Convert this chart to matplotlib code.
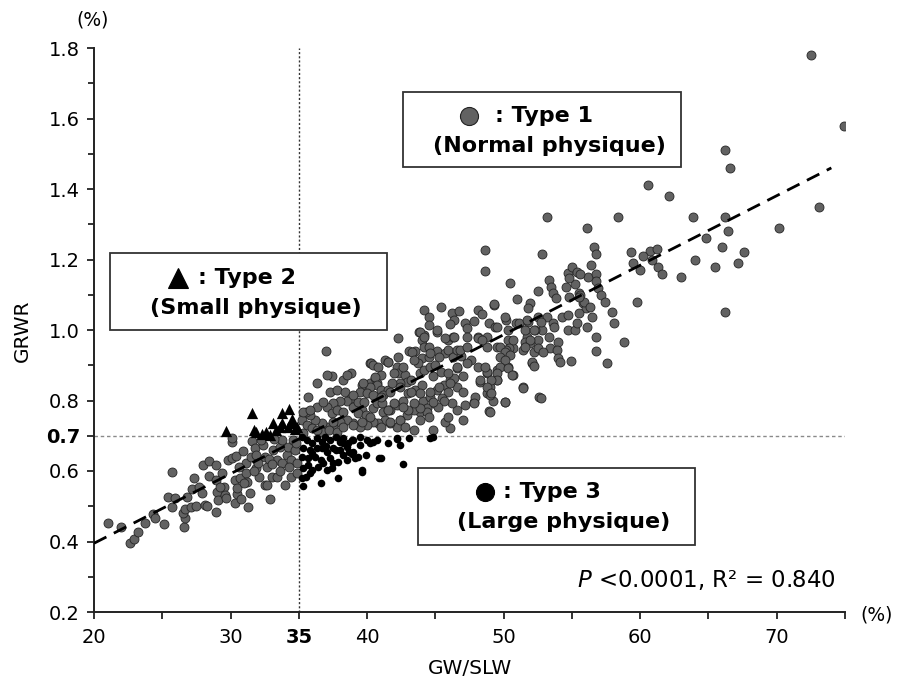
import numpy as np
import matplotlib
matplotlib.use("Agg")
import matplotlib.pyplot as plt
from matplotlib.patches import Rectangle
from matplotlib.lines import Line2D

# ---- data (GW/SLW %, GRWR %) ----
# Type 1 (normal physique), grouped by x band
normal_20_30 = [
    (21.0, 0.452), (22.0, 0.441), (22.6, 0.395), (22.9, 0.407), (23.2, 0.427), (23.7, 0.452),
    (24.3, 0.478), (24.5, 0.467), (25.1, 0.449), (25.4, 0.527), (25.7, 0.597), (25.9, 0.523),
    (25.7, 0.498), (26.6, 0.441), (26.7, 0.467), (26.5, 0.480), (26.8, 0.527), (26.7, 0.492),
    (27.2, 0.549), (27.3, 0.580), (27.1, 0.498), (27.5, 0.500), (27.7, 0.555), (27.9, 0.538),
    (28.0, 0.617), (28.1, 0.504), (28.4, 0.628), (28.4, 0.586), (28.9, 0.484), (28.3, 0.500),
    (28.9, 0.617), (28.9, 0.575), (29.0, 0.541), (29.1, 0.518), (29.4, 0.594), (29.5, 0.555),
    (29.6, 0.532), (29.2, 0.555), (29.7, 0.523), (29.8, 0.631),
]
normal_30_35 = [
    (30.1, 0.682), (30.1, 0.693), (30.1, 0.637), (30.3, 0.575), (30.3, 0.510), (30.4, 0.643),
    (30.5, 0.535), (30.5, 0.552), (30.7, 0.580), (30.8, 0.520), (30.9, 0.657), (31.1, 0.622),
    (31.1, 0.594), (31.2, 0.569), (31.3, 0.498), (31.4, 0.538), (31.5, 0.640), (31.6, 0.685),
    (31.8, 0.665), (31.9, 0.609), (31.9, 0.645), (32.0, 0.622), (32.1, 0.583), (32.4, 0.674),
    (32.5, 0.640), (32.7, 0.612), (32.5, 0.560), (32.7, 0.560), (32.9, 0.520), (33.0, 0.583),
    (33.1, 0.660), (33.4, 0.631), (33.4, 0.583), (33.6, 0.668), (33.8, 0.622), (33.8, 0.687),
    (34.0, 0.560), (34.1, 0.645), (34.2, 0.668), (34.4, 0.631), (34.4, 0.583), (34.6, 0.687),
    (34.7, 0.660), (34.9, 0.622), (34.8, 0.680), (34.9, 0.595), (33.2, 0.690),
    (32.2, 0.688), (31.0, 0.565), (30.6, 0.610), (32.8, 0.635), (33.6, 0.600), (34.3, 0.610),
    (31.7, 0.600), (33.0, 0.620),
]
normal_35_46 = [
    (36.3, 0.850), (37.4, 0.869), (38.2, 0.858), (38.8, 0.878), (37.3, 0.824), (37.8, 0.830),
    (38.4, 0.824), (38.8, 0.807), (38.5, 0.800), (38.0, 0.800), (37.5, 0.793), (37.1, 0.782),
    (37.4, 0.764), (37.8, 0.773), (38.2, 0.767), (39.0, 0.782), (39.3, 0.796), (39.6, 0.773),
    (39.3, 0.764), (39.9, 0.759), (40.4, 0.779), (40.7, 0.793), (41.1, 0.793), (41.2, 0.767),
    (41.7, 0.773), (42.2, 0.787), (42.6, 0.800), (43.0, 0.821), (43.5, 0.830), (44.0, 0.844),
    (44.1, 0.800), (44.6, 0.810), (45.1, 0.830), (45.6, 0.844), (46.1, 0.858), (46.6, 0.892),
    (46.4, 0.864), (45.9, 0.824), (45.5, 0.807), (44.8, 0.793), (44.4, 0.779), (43.9, 0.767),
    (43.4, 0.773), (42.9, 0.759), (42.4, 0.745), (42.2, 0.725), (41.7, 0.736), (41.3, 0.745),
    (40.8, 0.736), (40.4, 0.739), (40.0, 0.730), (39.5, 0.725), (39.0, 0.736), (38.5, 0.745),
    (38.0, 0.739), (37.5, 0.725), (37.1, 0.725), (36.7, 0.736), (36.2, 0.745), (35.8, 0.759),
    (35.5, 0.767), (35.2, 0.745), (35.6, 0.730), (36.0, 0.722), (36.7, 0.710), (37.2, 0.716),
    (37.8, 0.710), (35.7, 0.810), (36.3, 0.782), (36.8, 0.796), (39.6, 0.844), (40.2, 0.850),
    (40.6, 0.864), (35.3, 0.767), (35.8, 0.773), (37.1, 0.872), (38.5, 0.872), (35.3, 0.708),
    (36.3, 0.716), (37.5, 0.739), (38.2, 0.725), (39.0, 0.730), (39.6, 0.739), (40.2, 0.753),
    (41.0, 0.725), (41.5, 0.773), (40.7, 0.850), (40.2, 0.906), (41.3, 0.915),
    (37.0, 0.940), (42.3, 0.977), (43.8, 0.994), (44.2, 0.986), (45.1, 0.994), (45.9, 0.972),
    (46.3, 0.980), (44.0, 0.972), (44.2, 0.952), (43.1, 0.940), (43.5, 0.940), (44.0, 0.920),
    (44.5, 0.923), (45.1, 0.940), (45.7, 0.935), (45.9, 0.943), (46.3, 0.923), (46.6, 0.943),
    (40.3, 0.906), (40.4, 0.900), (41.5, 0.909), (42.2, 0.895), (42.3, 0.878), (42.8, 0.872),
    (42.9, 0.852), (42.4, 0.850), (40.8, 0.895), (41.0, 0.872), (40.6, 0.867), (40.7, 0.844),
    (40.2, 0.838), (39.7, 0.850), (39.5, 0.824), (40.0, 0.821), (40.4, 0.816), (41.0, 0.830),
    (41.5, 0.830), (41.2, 0.816), (39.0, 0.815), (41.8, 0.850), (43.2, 0.858), (44.8, 0.870),
    (45.4, 0.880), (47.0, 0.870), (47.6, 0.915), (46.9, 0.925), (43.7, 0.905), (39.8, 0.795),
]
normal_41_54 = [
    (44.2, 1.057), (44.5, 1.037), (45.4, 1.065), (46.2, 1.048), (46.7, 1.054), (46.4, 1.028),
    (46.1, 1.017), (47.2, 1.020), (47.3, 1.006), (47.8, 1.026), (48.1, 1.057), (48.4, 1.045),
    (49.3, 1.071), (48.9, 1.020), (49.4, 1.009), (44.5, 1.014), (43.9, 0.994), (44.2, 0.980),
    (45.1, 1.000), (45.7, 0.977), (46.4, 0.980), (47.3, 0.980), (48.1, 0.980), (48.8, 0.980),
    (43.3, 0.938), (44.5, 0.952), (44.6, 0.935), (45.3, 0.923), (46.8, 0.943), (47.3, 0.952),
    (48.8, 0.952), (49.5, 0.952), (50.3, 0.972), (50.7, 0.949), (51.4, 0.943), (52.2, 0.938),
    (53.4, 0.949), (52.1, 0.906), (50.7, 0.872), (51.4, 0.838), (52.6, 0.810), (47.0, 0.745),
    (46.1, 0.722), (45.7, 0.739), (44.8, 0.716), (43.4, 0.716), (42.3, 0.923), (41.5, 0.909),
    (42.0, 0.878), (42.6, 0.895), (43.4, 0.915), (43.9, 0.878), (44.2, 0.887), (44.6, 0.895),
    (45.0, 0.900), (45.9, 0.878), (46.6, 0.895), (47.3, 0.906), (48.1, 0.895), (48.8, 0.878),
    (49.5, 0.887), (50.3, 0.895), (48.3, 0.853), (49.0, 0.838), (49.5, 0.858), (48.8, 0.821),
    (49.2, 0.800), (47.8, 0.796), (47.2, 0.787), (46.6, 0.773), (46.2, 0.793), (45.6, 0.800),
    (45.2, 0.782), (44.8, 0.796), (44.4, 0.767), (43.9, 0.779), (43.4, 0.793), (43.0, 0.773),
    (42.6, 0.782), (42.0, 0.793), (41.5, 0.773), (42.4, 0.745), (41.7, 0.739), (42.8, 0.725),
    (43.9, 0.745), (44.5, 0.753), (45.9, 0.753), (46.6, 0.838), (47.0, 0.824), (46.1, 0.850),
    (45.3, 0.838), (44.6, 0.824), (43.9, 0.821), (43.2, 0.824), (42.4, 0.838), (41.7, 0.824),
    (41.0, 0.810),
]
normal_45_57 = [
    (48.6, 1.227), (48.6, 1.167), (52.8, 1.215), (50.5, 1.133), (52.5, 1.110), (51.0, 1.088),
    (49.3, 1.074), (51.9, 1.077), (51.8, 1.062), (53.3, 1.142), (53.5, 1.122), (53.6, 1.105),
    (53.8, 1.090), (54.7, 1.162), (55.0, 1.179), (55.4, 1.165), (55.2, 1.130), (56.2, 1.150),
    (54.8, 1.094), (55.5, 1.105), (55.8, 1.077), (56.0, 1.062), (56.5, 1.037), (54.9, 0.912),
    (52.7, 0.807), (51.4, 0.835), (50.1, 0.796), (48.9, 0.770), (54.7, 1.000), (55.2, 1.000),
    (55.4, 1.020), (54.0, 0.966), (53.9, 0.943), (54.0, 0.920), (54.1, 0.910), (53.2, 1.037),
    (53.6, 1.020), (53.7, 1.009), (53.3, 0.980), (54.3, 1.037), (54.7, 1.043), (52.8, 1.000),
    (52.3, 1.000), (52.5, 0.972), (52.5, 0.949), (52.9, 0.938), (52.1, 0.909), (52.2, 0.898),
    (51.8, 1.023), (51.7, 0.980), (51.6, 0.966), (51.9, 0.963), (50.9, 1.020), (50.7, 0.972),
    (50.4, 0.949), (50.2, 0.943), (50.2, 1.028), (50.1, 1.037), (50.3, 1.000), (48.1, 0.977),
    (48.4, 0.972), (49.5, 1.009), (51.1, 1.020), (51.6, 1.000), (51.7, 1.028), (52.5, 1.037),
    (52.7, 1.023), (52.2, 1.000), (51.9, 0.972), (51.6, 0.952), (49.7, 0.952), (50.1, 0.938),
    (50.5, 0.929), (49.7, 0.923), (50.1, 0.915), (49.7, 0.895), (50.3, 0.892), (50.6, 0.872),
    (49.5, 0.878), (49.5, 0.858), (49.1, 0.858), (48.8, 0.881), (48.6, 0.895), (48.3, 0.858),
    (48.8, 0.838), (49.0, 0.816), (49.1, 0.821), (47.9, 0.810), (47.8, 0.793), (49.0, 0.767),
    (50.1, 0.796),
]
normal_53_60 = [
    (56.1, 1.290), (56.6, 1.235), (56.8, 1.215), (56.4, 1.185), (55.6, 1.160), (56.8, 1.160),
    (56.8, 1.140), (56.9, 1.120), (57.1, 1.100), (57.4, 1.080), (55.6, 1.100), (55.9, 1.080),
    (56.3, 1.065), (57.9, 1.050), (58.1, 1.020), (58.8, 0.965), (56.8, 0.940), (57.6, 0.905),
    (53.2, 1.320), (58.4, 1.320), (56.8, 0.980), (56.1, 1.009), (55.5, 1.048), (54.8, 1.148),
    (54.6, 1.122), (55.5, 1.094),
]
normal_58_75 = [
    (72.5, 1.780), (74.9, 1.580), (66.2, 1.510), (66.6, 1.460), (60.6, 1.410), (62.1, 1.380),
    (63.9, 1.320), (66.2, 1.320), (66.4, 1.280), (64.8, 1.260), (70.2, 1.290), (73.1, 1.350),
    (66.0, 1.235), (67.6, 1.220), (64.0, 1.200), (65.5, 1.180), (67.2, 1.190), (63.0, 1.150),
    (59.3, 1.220), (60.7, 1.225), (61.2, 1.230), (60.2, 1.210), (60.9, 1.200), (59.5, 1.190),
    (61.3, 1.180), (60.0, 1.170), (61.6, 1.160), (59.8, 1.080), (66.2, 1.050),
]

# Type 2 (small physique)
small_physique = [
    (29.7, 0.713), (31.6, 0.764), (31.7, 0.716), (31.9, 0.711), (32.3, 0.705), (32.9, 0.702),
    (33.1, 0.736), (33.8, 0.764), (33.8, 0.736), (34.3, 0.776), (34.5, 0.748), (34.6, 0.736),
    (34.7, 0.719), (34.2, 0.725), (33.6, 0.725), (34.9, 0.725), (32.6, 0.710), (33.3, 0.715),
]

# Type 3 (large physique)
large_physique = [
    (35.3, 0.557), (36.6, 0.566), (37.9, 0.580), (39.6, 0.597), (40.9, 0.637), (42.6, 0.620),
    (42.4, 0.674), (43.1, 0.694), (44.8, 0.697), (42.2, 0.691), (40.4, 0.682), (40.0, 0.688),
    (39.5, 0.697), (39.9, 0.645), (39.3, 0.640), (38.9, 0.648), (38.5, 0.631), (37.5, 0.622),
    (37.3, 0.637), (37.1, 0.654), (36.0, 0.603), (35.7, 0.617), (35.5, 0.583), (35.2, 0.697),
    (35.6, 0.688), (36.0, 0.679), (36.3, 0.694), (36.7, 0.682), (36.9, 0.697), (37.3, 0.688),
    (37.7, 0.697), (38.0, 0.682), (38.2, 0.694), (38.6, 0.679), (39.0, 0.688), (35.3, 0.665),
    (35.8, 0.660), (36.3, 0.665), (36.7, 0.665), (37.5, 0.665), (38.0, 0.660), (38.5, 0.668),
    (35.2, 0.640), (35.7, 0.637), (36.2, 0.640), (36.6, 0.631), (36.8, 0.622), (36.4, 0.611),
    (37.1, 0.603), (37.4, 0.608), (35.8, 0.594), (35.3, 0.608), (35.2, 0.580), (37.9, 0.625),
    (38.2, 0.645), (39.0, 0.654), (39.5, 0.674), (40.7, 0.688), (42.2, 0.694), (44.6, 0.694),
    (39.6, 0.603), (41.0, 0.637), (39.1, 0.637), (37.7, 0.660), (38.2, 0.680), (38.9, 0.688),
    (40.2, 0.680), (36.0, 0.650), (37.0, 0.672), (38.7, 0.655), (41.5, 0.680),
]

# regression line
fit_slope = 0.01972
fit_intercept = 0.0006
fit_x_range = [20, 74]

x_ticks = [20, 30, 35, 40, 50, 60, 70]
x_minor = [25, 45, 55, 65, 75]
y_ticks = [0.2, 0.4, 0.6, 0.7, 0.8, 1.0, 1.2, 1.4, 1.6, 1.8]
y_minor = [0.3, 0.5, 0.9, 1.1, 1.3, 1.5, 1.7]
cut_x, cut_y = 35, 0.7

W, H = 897, 689


def fx(px):
    return px / W


def fy(py):
    return 1 - py / H


normal = np.array(normal_20_30 + normal_30_35 + normal_35_46 + normal_41_54
                  + normal_45_57 + normal_53_60 + normal_58_75)
small = np.array(small_physique)
large = np.array(large_physique)

fig = plt.figure(figsize=(W / 100, H / 100), dpi=100)
ax = fig.add_axes([fx(94), fy(612), (845 - 94) / W, (612 - 48) / H])

ax.set_xlim(20, 75)
ax.set_ylim(0.2, 1.8)

# cut-off reference lines
ax.axvline(cut_x, color='#333333', lw=1.0, ls=(0, (1.5, 1.5)), zorder=1)
ax.axhline(cut_y, color='#8a8a8a', lw=1.0, ls=(0, (2.5, 2)), zorder=1)

ax.scatter(normal[:, 0], normal[:, 1], s=42, c='#626262', edgecolors='#262626',
           linewidths=0.6, zorder=2)
ax.scatter(small[:, 0], small[:, 1], s=66, marker='^', c='black', linewidths=0, zorder=3)
ax.scatter(large[:, 0], large[:, 1], s=30, c='black', linewidths=0, zorder=3)

fx_line = np.array(fit_x_range)
ax.plot(fx_line, fit_slope * fx_line + fit_intercept, color='black', lw=2.0,
        ls=(0, (5, 3)), zorder=5)

# axes styling
for side in ['top', 'right']:
    ax.spines[side].set_visible(False)
for side in ['left', 'bottom']:
    ax.spines[side].set_linewidth(1.4)
    ax.spines[side].set_color('#222222')

ax.set_xticks(x_ticks)
ax.set_xticks(x_minor, minor=True)
ax.set_xticklabels([str(v) for v in x_ticks])
ax.set_yticks(y_ticks)
ax.set_yticks(y_minor, minor=True)
ax.set_yticklabels([f"{v:.1f}" for v in y_ticks])
ax.tick_params(axis='both', which='both', direction='out', width=1.3, color='#222222')
ax.tick_params(axis='x', which='both', length=5, labelsize=14, pad=6.5)
ax.tick_params(axis='y', which='major', length=5, labelsize=14, pad=5)
ax.tick_params(axis='y', which='minor', length=4)
for lbl in ax.get_xticklabels():
    if lbl.get_text() == '35':
        lbl.set_fontweight('bold')
for lbl in ax.get_yticklabels():
    if lbl.get_text() == '0.7':
        lbl.set_fontweight('bold')

# axis titles and units
fig.text(fx(22), fy(331), 'GRWR', rotation=90, ha='center', va='center', fontsize=14.5)
fig.text(fx(470), fy(668), 'GW/SLW', ha='center', va='center', fontsize=14.5)
fig.text(fx(93), fy(20), '(%)', ha='center', va='center', fontsize=13.5)
fig.text(fx(877), fy(615), '(%)', ha='center', va='center', fontsize=13.5)
fig.text(fx(836), fy(580), r'$P$ <0.0001, R² = 0.840', ha='right', va='center',
         fontsize=16.5)


# legend boxes
def legend_box(x0, y0, x1, y1, marker, mcolor, msize, line1, line1_x, line2):
    fig.add_artist(Rectangle((fx(x0), fy(y1)), (x1 - x0) / W, (y1 - y0) / H,
                             transform=fig.transFigure, facecolor='white',
                             edgecolor='#333333', lw=1.3, zorder=6))
    mx, my = marker
    fig.add_artist(Line2D([fx(mx)], [fy(my)], marker=mcolor[0], ms=msize,
                          mfc=mcolor[1], mec=mcolor[2], mew=0.8, ls='none',
                          transform=fig.transFigure, zorder=7))
    fig.text(fx(line1_x), fy(my), line1, ha='left', va='center', fontsize=16,
             fontweight='bold', zorder=7)
    fig.text(fx((x0 + x1) / 2 + 7), fy(my + 30), line2, ha='center', va='center',
             fontsize=16, fontweight='bold', zorder=7)


legend_box(403, 92, 681, 167, (469, 116), ('o', '#626262', '#222222'), 13,
           ': Type 1', 495, '(Normal physique)')
legend_box(110, 253, 387, 330, (178, 278), ('^', 'black', 'black'), 15,
           ': Type 2', 198, '(Small physique)')
legend_box(418, 468, 695, 545, (485, 492), ('o', 'black', 'black'), 13,
           ': Type 3', 503, '(Large physique)')

fig.savefig('out.png', dpi=100)
